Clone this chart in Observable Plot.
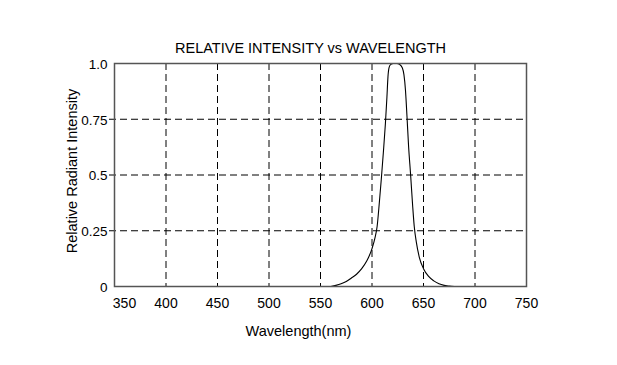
<!DOCTYPE html>
<html><head><meta charset="utf-8">
<script src="https://cdn.jsdelivr.net/npm/d3@7"></script>
<script src="https://cdn.jsdelivr.net/npm/@observablehq/plot@0.6"></script>
<style>body{margin:0;background:#fff;font-family:"Liberation Sans",Arial,sans-serif}</style>
</head><body><div id="chart"></div>
<script>
const wavelength = [560,565,570,575,580,585,590,595,600,603,605,607,609,611,613,614.5,615.5,616.5,618,621,624,627,629.5,631,632.5,634,635.5,637.5,639.5,641,643,646,650,655,660,665,670,675,680];
const intensity  = [0,0.005,0.012,0.022,0.038,0.055,0.08,0.115,0.17,0.22,0.27,0.37,0.48,0.6,0.73,0.85,0.94,0.98,0.995,1.0,1.0,0.995,0.98,0.95,0.88,0.76,0.63,0.5,0.36,0.27,0.2,0.13,0.08,0.045,0.025,0.012,0.005,0.002,0];
const xTicks = [350,400,450,500,550,600,650,700,750];
const yTicks = [0,0.25,0.5,0.75,1.0];
const yTickLabels = ["0","0.25","0.5","0.75","1.0"];
const title = "RELATIVE INTENSITY vs WAVELENGTH";
const xLabel = "Wavelength(nm)";
const yLabel = "Relative Radiant Intensity";

const data = wavelength.map((w,i)=>({w, v: intensity[i]}));
const innerX = xTicks.filter(t => t !== 350 && t !== 750);
const innerY = yTicks.filter(t => t !== 0 && t !== 1.0);

const chart = Plot.plot({
  width: 617, height: 365,
  marginLeft: 114, marginRight: 91, marginTop: 63, marginBottom: 79,
  style: {fontFamily: '"Liberation Sans", Arial, sans-serif', fontSize: "14px", color: "#000", background: "#fff"},
  x: {domain: [350, 750]},
  y: {domain: [0, 1]},
  marks: [
    Plot.ruleX(innerX, {stroke: "#000", strokeWidth: 1, strokeDasharray: "7,4", strokeOpacity: 1}),
    Plot.ruleY(innerY, {stroke: "#000", strokeWidth: 1, strokeDasharray: "7,4", insetLeft: -5}),
    Plot.line(data, {x: "w", y: "v", stroke: "#000", strokeWidth: 1.1, curve: "monotone-x"}),
    Plot.frame({stroke: "#555", strokeWidth: 1.5}),
    Plot.axisX(xTicks.filter(t => t !== 350), {tickSize: 0, tickPadding: 12, label: null, fontSize: 14}),
    Plot.axisX([350], {tickSize: 0, tickPadding: 12, label: null, fontSize: 14, dx: 10}),
    Plot.axisY(yTicks, {tickSize: 0, tickPadding: 7, label: null, fontSize: 13.5, dy: 1, tickFormat: (d,i) => yTickLabels[yTicks.indexOf(d)]}),
    Plot.text([title], {frameAnchor: "top", dy: -21, dx: -10, fontSize: 14.5, text: d => d}),
    Plot.text([xLabel], {frameAnchor: "bottom", dy: 49, dx: -22, fontSize: 14.5, text: d => d}),
    Plot.text([yLabel], {frameAnchor: "left", dx: -42, dy: -4, rotate: -90, textAnchor: "middle", fontSize: 14.5, text: d => d})
  ]
});
document.getElementById("chart").appendChild(chart);
</script>
</body></html>
